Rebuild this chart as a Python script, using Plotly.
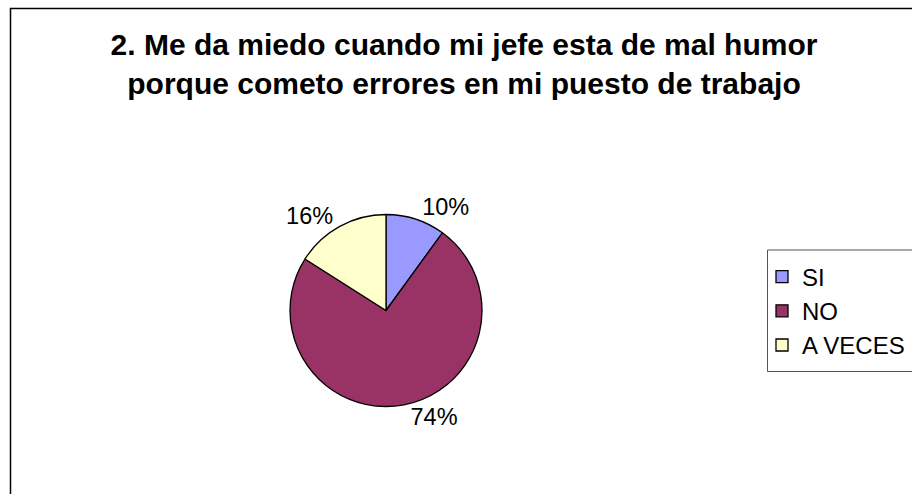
import plotly.graph_objects as go

categories = ["SI", "NO", "A VECES"]
values = [10, 74, 16]
colors = ["#9999FF", "#993366", "#FFFFCC"]
title_lines = ["2. Me da miedo cuando mi jefe esta de mal humor",
               "porque cometo errores en mi puesto de trabajo"]

W, H = 912, 494
FONT = "Liberation Sans, Arial, sans-serif"

def px(x):
    return x / W

def py(y):
    return 1 - y / H

cx, cy, r = 386, 310.5, 96

fig = go.Figure(go.Pie(
    labels=categories,
    values=values,
    sort=False,
    direction="clockwise",
    rotation=0,
    marker=dict(colors=colors, line=dict(color="black", width=1.3)),
    texttemplate="%{percent:.0%}",
    textposition="outside",
    textfont=dict(family=FONT, size=23.5, color="black"),
    domain=dict(x=[px(cx - r), px(cx + r)], y=[py(cy + r), py(cy - r)]),
    hoverinfo="label+percent",
))

fig.update_layout(
    width=W, height=H,
    margin=dict(l=0, r=0, t=0, b=0, autoexpand=False),
    paper_bgcolor="white",
    plot_bgcolor="white",
    title=dict(
        text="<br>".join(title_lines),
        x=px(464), xanchor="center",
        y=py(55), yanchor="top", yref="container",
        font=dict(family=FONT, size=30, color="black", weight="bold"),
    ),
    showlegend=True,
    legend=dict(
        x=px(762), xanchor="left",
        y=py(311), yanchor="middle",
        font=dict(family=FONT, size=24, color="black"),
        bgcolor="rgba(0,0,0,0)",
        borderwidth=0,
    ),
    shapes=[
        dict(type="rect", xref="paper", yref="paper",
             x0=px(10.5), y0=py(8.5), x1=1.05, y1=-0.05,
             line=dict(color="black", width=1.5), layer="below"),
        dict(type="rect", xref="paper", yref="paper",
             x0=px(767.5), y0=py(250), x1=px(916), y1=py(371.5),
             line=dict(color="#555555", width=1), layer="below"),
    ],
)

fig.write_html("out.html")
